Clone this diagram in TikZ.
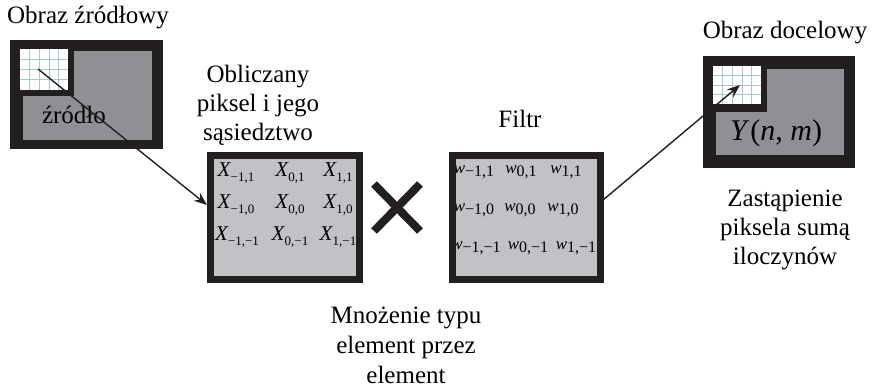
\documentclass[tikz,border=0pt]{standalone}
\usepackage{fontspec}
\setmainfont{LiberationSerif}[Extension=.ttf,UprightFont=*-Regular,ItalicFont=*-Italic,BoldFont=*-Bold,BoldItalicFont=*-BoldItalic]
\usetikzlibrary{arrows.meta}

\definecolor{frame}{HTML}{231F20}
\definecolor{darkfill}{HTML}{8F9094}
\definecolor{lightfill}{HTML}{C1C2C6}
\definecolor{gridline}{HTML}{A9CACB}

% index label: italic letter with a lowered subscript
\newcommand\idx[2]{\textit{#1}\kern-0.5pt\raisebox{-0.45ex}{\fontsize{13}{13}\selectfont #2}}
\newcommand\wdx[2]{\textit{#1}\raisebox{-0.4ex}{\fontsize{16}{16}\selectfont #2}}
% light pixel grid in a white square
\newcommand\pixgrid[4]{%
  \fill[white] (#1,#2) rectangle (#3,#4);
  \foreach \gx in {1,...,4} \draw[gridline,line width=0.6pt] ({#1+\gx*(#3-#1)/5},#2) -- ({#1+\gx*(#3-#1)/5},#4);
  \foreach \gy in {1,...,3} \draw[gridline,line width=0.6pt] (#1,{#2+\gy*(#4-#2)/4}) -- (#3,{#2+\gy*(#4-#2)/4});
}

\begin{document}
\begin{tikzpicture}[x=1pt,y=-1pt,
  caption/.style={align=center,font=\fontsize{25}{29}\selectfont,inner sep=0pt},
  xlabel/.style={font=\fontsize{21}{21}\selectfont,inner sep=0pt},
  wlabel/.style={font=\fontsize{17}{17}\selectfont,inner sep=0pt},
  conn/.style={line width=1.4pt,-{Stealth[length=13pt,width=10pt]}}]
\useasboundingbox (0,0) rectangle (875,387);

% ---- source image ----
\fill[frame] (10,40) rectangle (163,149);
\fill[darkfill] (74,51) rectangle (152,140);
\fill[darkfill] (23,96) rectangle (152,140);
\pixgrid{20}{49}{68}{90}
\node[caption] (srccap) at (88,18) {Obraz źródłowy};
\node[caption] (srctxt) at (74,115) {źródło};
\coordinate (srcpix) at (38,69);

% ---- neighbourhood box ----
\fill[frame] (207,152) rectangle (363,283);
\fill[lightfill] (214,159) rectangle (356,276);
\coordinate (xin) at (207,205);
\node[caption] (xcap) at (258,105) {Obliczany\\piksel i jego\\sąsiedztwo};
\node[xlabel] (x11a) at (236,173) {\idx{X}{−1,1}};
\node[xlabel] (x01) at (290,173) {\idx{X}{0,1}};
\node[xlabel] (x11) at (338,173) {\idx{X}{1,1}};
\node[xlabel] (x10a) at (236,205) {\idx{X}{−1,0}};
\node[xlabel] (x00) at (290,205) {\idx{X}{0,0}};
\node[xlabel] (x10) at (338,205) {\idx{X}{1,0}};
\node[xlabel] (x1ma) at (237,237) {\idx{X}{−1,−1}};
\node[xlabel] (x0m) at (290,237) {\idx{X}{0,−1}};
\node[xlabel] (x1m) at (338,237) {\idx{X}{1,−1}};

% ---- multiplication sign ----
\draw[frame,line width=8pt] (374,184) -- (420,231);
\draw[frame,line width=8pt] (420,184) -- (374,231);
\node[caption,font=\fontsize{25}{30}\selectfont] (multcap) at (406,345) {Mnożenie typu\\element przez\\element};

% ---- filter box ----
\node[caption] (filtcap) at (520,119) {Filtr};
\fill[frame] (449,152) rectangle (604,283);
\fill[lightfill] (456,159) rectangle (597,276);
\coordinate (fout) at (603,200);
\begin{scope}
\clip (456,159) rectangle (597,276);
\node[wlabel] (w11a) at (474,172) {\wdx{w}{−1,1}};
\node[wlabel] (w01) at (521,172) {\wdx{w}{0,1}};
\node[wlabel] (w11) at (566,172) {\wdx{w}{1,1}};
\node[wlabel] (w10a) at (474,210) {\wdx{w}{−1,0}};
\node[wlabel] (w00) at (520,210) {\wdx{w}{0,0}};
\node[wlabel] (w10) at (563,210) {\wdx{w}{1,0}};
\node[wlabel] (w1ma) at (476,248) {\wdx{w}{−1,−1}};
\node[wlabel] (w0m) at (528,248) {\wdx{w}{0,−1}};
\node[wlabel] (w1m) at (576,248) {\wdx{w}{1,−1}};
\end{scope}

% ---- target image ----
\fill[frame] (703,56) rectangle (855,168);
\fill[darkfill] (767,69) rectangle (844,155);
\fill[darkfill] (716,112) rectangle (844,155);
\pixgrid{713}{66}{761}{104}
\coordinate (dstpix) at (740,85);
\node[caption] (dstcap) at (785,33) {Obraz docelowy};
\node[inner sep=0pt,font=\fontsize{30}{30}\selectfont] (ytxt) at (776,133) {\textit{Y}\kern1pt(\textit{n}, \textit{m})};
\node[caption] (sumcap) at (785,230) {Zastąpienie\\piksela sumą\\iloczynów};

% ---- connectors ----
\draw[conn,frame] (srcpix) -- (xin);
\draw[conn,frame] (fout) -- (dstpix);
\end{tikzpicture}
\end{document}
